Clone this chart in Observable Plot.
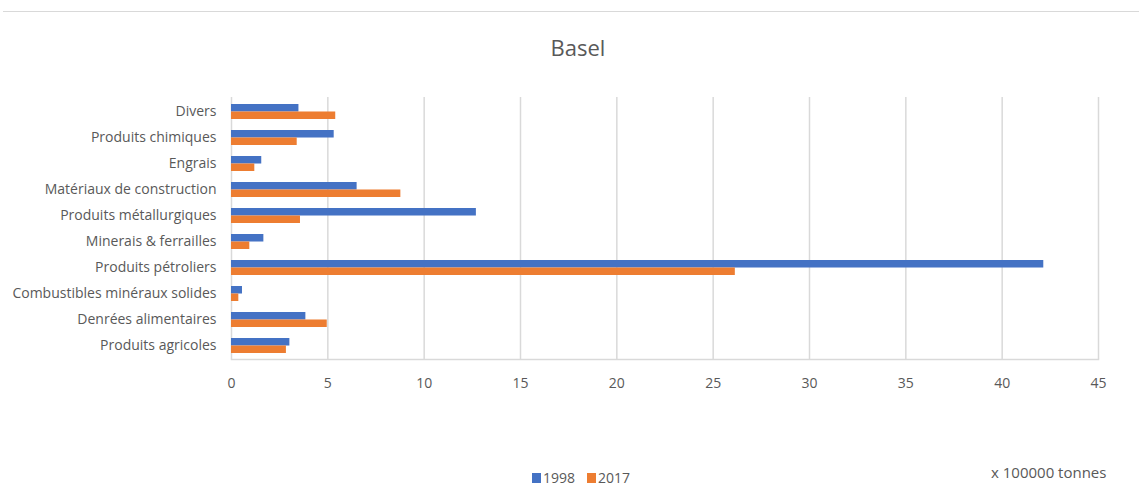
<!DOCTYPE html>
<html><head><meta charset="utf-8">
<script src="https://cdn.jsdelivr.net/npm/d3@7"></script>
<script src="https://cdn.jsdelivr.net/npm/@observablehq/plot@0.6"></script>
<style>
body{margin:0;background:#fff;font-family:"Open Sans",sans-serif;}
#wrap{position:relative;width:1139px;height:504px;overflow:hidden;}
#topline{position:absolute;left:3px;right:0;top:11px;height:1px;background:#d9d9d9;}
#title{position:absolute;left:0;width:1156px;top:32px;text-align:center;font-size:22px;color:#595959;}
#chart{position:absolute;left:0;top:0;}
#legend{position:absolute;top:468px;left:532px;font-size:14px;line-height:20px;color:#595959;display:flex;align-items:center;}
.sw{display:inline-block;width:9px;height:10px;margin-right:2px;}
#unit{position:absolute;top:462px;left:991px;font-size:15px;line-height:20px;color:#595959;}
</style></head><body>
<div id="wrap">
<div id="topline"></div>
<div id="title">Basel</div>
<div id="chart"></div>
<div id="legend"><span class="sw" style="background:#4472c4"></span><span>1998</span><span style="width:12px"></span><span class="sw" style="background:#ed7d31"></span><span>2017</span></div>
<div id="unit">x 100000 tonnes</div>
</div>
<script>
const categories = ["Divers","Produits chimiques","Engrais","Matériaux de construction","Produits métallurgiques","Minerais & ferrailles","Produits pétroliers","Combustibles minéraux solides","Denrées alimentaires","Produits agricoles"];
const values1998 = [3.5, 5.33, 1.57, 6.52, 12.71, 1.68, 42.16, 0.57, 3.86, 3.03];
const values2017 = [5.41, 3.41, 1.21, 8.79, 3.58, 0.95, 26.15, 0.38, 4.97, 2.85];
const xTicks = [0,5,10,15,20,25,30,35,40,45];

const d98 = categories.map((c,i)=>({cat:c, v:values1998[i]}));
const d17 = categories.map((c,i)=>({cat:c, v:values2017[i]}));

const pi = 0.43, po = 0.2;
const step = 262/(10 - pi + 2*po), bw = step*(1-pi);
const chart = Plot.plot({
  width:1139, height:400,
  marginLeft:231, marginRight:41, marginTop:97, marginBottom:41,
  style:{fontFamily:"Open Sans, sans-serif", fontSize:"14px", color:"#595959"},
  x:{domain:[0,45], ticks:xTicks, tickSize:0, tickPadding:19, label:null},
  y:{domain:categories, paddingInner:pi, paddingOuter:po, tickSize:0, tickPadding:15, label:null},
  marks:[
    Plot.gridX(xTicks,{stroke:"#d9d9d9", strokeOpacity:1, strokeWidth:1.5}),
    Plot.frame({anchor:"bottom", stroke:"#d9d9d9", strokeWidth:1.5}),
    Plot.barX(d98,{y:"cat", x:"v", fill:"#4472c4", insetBottom:bw/2}),
    Plot.barX(d17,{y:"cat", x:"v", fill:"#ed7d31", insetTop:bw/2}),
  ]
});
document.getElementById("chart").appendChild(chart);
</script>
</body></html>
